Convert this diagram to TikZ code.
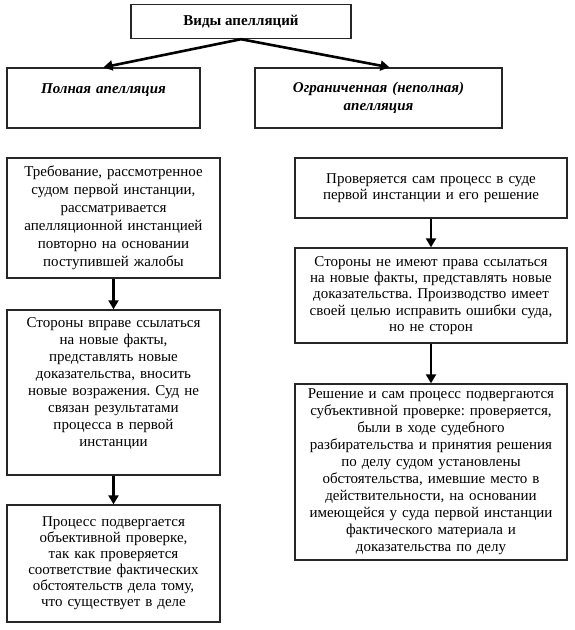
\documentclass[tikz,border=0pt]{standalone}
\usepackage{fontspec}
\setmainfont{Liberation Serif}
\usetikzlibrary{arrows.meta}
\frenchspacing

\begin{document}
\begin{tikzpicture}[x=1pt,y=-1pt,
  box/.style={draw=black!85,line width=1.4pt,align=center,inner sep=2pt,
              font=\fontsize{15}{16.5}\selectfont},
  head/.style={box,font=\bfseries\itshape\fontsize{15}{18}\selectfont},
  flow/.style={-{Triangle[length=9pt,width=10pt]},line width=2.6pt}]
\useasboundingbox (0,0) rectangle (574,630);
% headers
\node[box,font=\bfseries\fontsize{15}{16}\selectfont,
      minimum width=220pt,minimum height=34pt] (kinds) at (241,21.5) {Виды апелляций};
\node[head,text width=189pt,minimum height=60pt] (full) at (103.5,98)
  {Полная апелляция\\~};
\node[head,text width=243pt,minimum height=60pt] (restricted) at (378.5,98)
  {Ограниченная (неполная)\\ апелляция};
% left column
\node[box,text width=209pt,minimum height=120pt,font=\fontsize{15}{18}\selectfont] (full-1) at (113.5,218)
  {Требование, рассмотренное\\ судом первой инстанции,\\ рассматривается\\
   апелляционной инстанцией\\ повторно на основании\\ поступившей жалобы};
\node[box,text width=209pt,minimum height=165pt,font=\fontsize{15}{17}\selectfont] (full-2) at (113.5,392.5)
  {Стороны вправе ссылаться\\ на новые факты,\\ представлять новые\\
   доказательства, вносить\\ новые возражения. Суд не\\ связан результатами\\
   процесса в первой\\ инстанции\\[4pt]~};
\node[box,text width=209pt,minimum height=117pt,font=\fontsize{15}{16}\selectfont] (full-3) at (113.5,563.5)
  {Процесс подвергается\\ объективной проверке,\\ так как проверяется\\
   соответствие фактических\\ обстоятельств дела тому,\\ что существует в деле};
% right column
\node[box,text width=268pt,minimum height=60pt] (restricted-1) at (431,188)
  {Проверяется сам процесс в суде\\ первой инстанции и его решение};
\node[box,text width=268pt,minimum height=95pt,font=\fontsize{15}{16.3}\selectfont] (restricted-2) at (431,295.5)
  {Стороны не имеют права ссылаться\\ на новые факты, представлять новые\\
   доказательства. Производство имеет\\ своей целью исправить ошибки суда,\\ но не сторон};
\node[box,text width=268pt,minimum height=176pt,font=\fontsize{15}{17}\selectfont] (restricted-3) at (431,472)
  {Решение и сам процесс подвергаются\\ субъективной проверке: проверяется,\\
   были в ходе судебного\\ разбирательства и принятия решения\\
   по делу судом установлены\\ обстоятельства, имевшие место в\\
   действительности, на основании\\ имеющейся у суда первой инстанции\\
   фактического материала и\\ доказательства по делу};
% arrows
\path[flow]
(kinds.south)    edge (full.north)
(kinds.south)    edge ([xshift=11pt]restricted.north)
(full-1)         edge (full-2)
(full-2)         edge (full-3)
(restricted-1)   edge (restricted-2)
(restricted-2)   edge (restricted-3)
;
\end{tikzpicture}
\end{document}
